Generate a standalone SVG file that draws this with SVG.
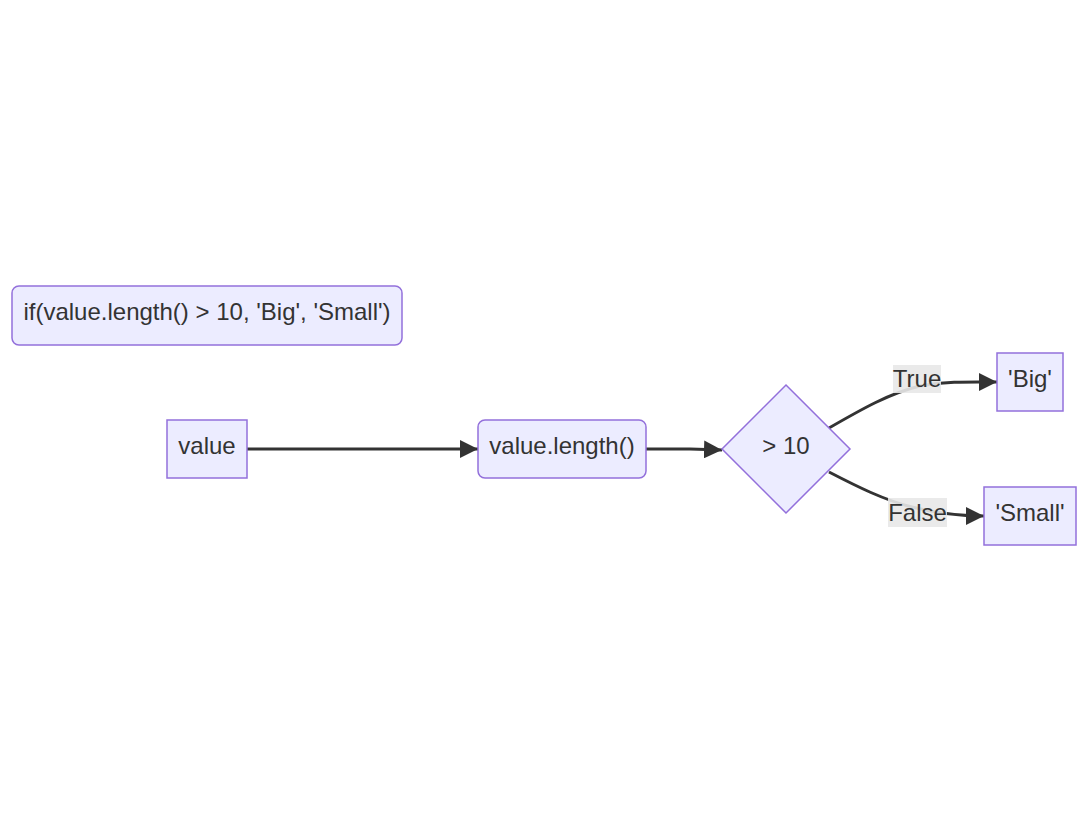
<svg xmlns="http://www.w3.org/2000/svg" width="1088" height="832" viewBox="0 0 1088 832">
<style>
.node{fill:#ECECFF;stroke:#9370DB;stroke-width:1.5}
.lbl{font-family:"Liberation Sans",Arial,sans-serif;font-size:24px;fill:#333333;text-anchor:middle}
.edge{fill:none;stroke:#333333;stroke-width:3}
.ebg{fill:#e8e8e8;opacity:0.9}
</style>
<defs>
<marker id="arrow" viewBox="0 0 10 10" refX="10" refY="5" markerUnits="userSpaceOnUse" markerWidth="18" markerHeight="18" orient="auto">
<path d="M0,0 L10,5 L0,10 z" fill="#333333"/>
</marker>
</defs>
<rect width="1088" height="832" fill="#ffffff"/>
<g id="connectors">
<path class="edge" d="M247,449 L478,449" marker-end="url(#arrow)"/>
<path class="edge" d="M646,449 L690,449 L722,450" marker-end="url(#arrow)"/>
<path class="edge" d="M829,428 C862,409 890,393 920,386 C948,381 972,382 997,382" marker-end="url(#arrow)"/>
<path class="edge" d="M829,472 C858,487 884,500 912,507 C940,514 962,516 984,516" marker-end="url(#arrow)"/>
<rect class="ebg" x="893" y="365" width="48" height="28"/>
<text class="lbl" x="917" y="387">True</text>
<rect class="ebg" x="888" y="498" width="59" height="29"/>
<text class="lbl" x="917.5" y="521">False</text>
</g>
<g id="note">
<rect class="node" x="12" y="286" width="390" height="59" rx="7" ry="7"/>
<text class="lbl" x="207" y="320">if(value.length() &gt; 10, 'Big', 'Small')</text>
</g>
<g id="value">
<rect class="node" x="167" y="420" width="80" height="58"/>
<text class="lbl" x="207" y="454">value</text>
</g>
<g id="length">
<rect class="node" x="478" y="420" width="168" height="58" rx="7" ry="7"/>
<text class="lbl" x="562" y="454">value.length()</text>
</g>
<g id="cond">
<polygon class="node" points="786,385 850,449 786,513 722,449"/>
<text class="lbl" x="786" y="454">&gt; 10</text>
</g>
<g id="big">
<rect class="node" x="997" y="353" width="66" height="58"/>
<text class="lbl" x="1030" y="387">'Big'</text>
</g>
<g id="small">
<rect class="node" x="984" y="487" width="92" height="58"/>
<text class="lbl" x="1030" y="521">'Small'</text>
</g>
</svg>
